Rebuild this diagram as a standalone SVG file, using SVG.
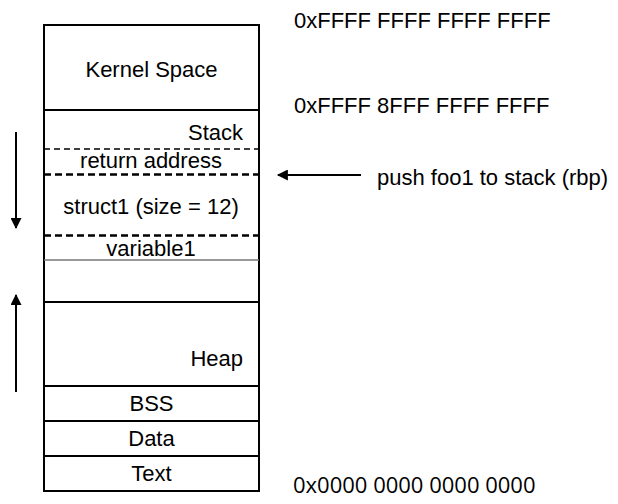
<svg xmlns="http://www.w3.org/2000/svg" width="618" height="504" viewBox="0 0 618 504">
<defs>
<style>
.t{font-family:"Liberation Sans",Arial,sans-serif;font-size:22px;fill:#000}
.c{text-anchor:middle}
.e{text-anchor:end}
.o{font-family:"Open Sans","Noto Sans",sans-serif;font-size:22px;fill:#000}
.s{stroke:#000;stroke-width:2;fill:none}
.d1{stroke:#000;stroke-width:1.5;stroke-dasharray:6 4;fill:none}
.d2{stroke:#000;stroke-width:2.5;stroke-dasharray:7 4;fill:none}
.ar{stroke:#000;stroke-width:2;fill:none}
</style>
<marker id="ah" viewBox="0 0 10 10" refX="9" refY="5" markerWidth="6" markerHeight="5.5" orient="auto" markerUnits="strokeWidth">
<path d="M0,0 L10,5 L0,10 z" fill="#000"/>
</marker>
</defs>
<rect width="618" height="504" fill="#fff"/>
<g id="kernel"><rect x="44" y="25" width="215" height="85" class="s"/><text class="t c" x="151.5" y="77">Kernel Space</text></g>
<g id="stack"><line x1="44" y1="110" x2="44" y2="302" class="s"/><line x1="259" y1="110" x2="259" y2="302" class="s"/><text class="t e" x="243" y="140">Stack</text></g>
<g id="return-address"><line x1="44" y1="149" x2="259" y2="149" class="d1"/><text class="t c" x="151" y="168">return address</text></g>
<g id="struct1"><line x1="44" y1="174.5" x2="259" y2="174.5" class="d2"/><text class="t c" x="151" y="214">struct1 (size = 12)</text></g>
<g id="variable1"><line x1="44" y1="235.5" x2="259" y2="235.5" class="d2"/><text class="t c" x="151" y="256">variable1</text><line x1="44" y1="260" x2="259" y2="260" stroke="#777" stroke-width="1.5"/></g>
<g id="gap"><line x1="44" y1="302" x2="259" y2="302" stroke="#000" stroke-width="1.5"/></g>
<g id="heap"><rect x="44" y="302" width="215" height="84" class="s"/><text class="t e" x="243" y="366">Heap</text></g>
<g id="bss"><rect x="44" y="386" width="215" height="35" class="s"/><text class="t c" x="151.5" y="411">BSS</text></g>
<g id="data"><rect x="44" y="421" width="215" height="35" class="s"/><text class="t c" x="151.5" y="446">Data</text></g>
<g id="text-seg"><rect x="44" y="456" width="215" height="35" class="s"/><text class="t c" x="151.5" y="481">Text</text></g>
<g id="addr-top"><text class="t" x="294" y="28">0xFFFF FFFF FFFF FFFF</text></g>
<g id="addr-kernel"><text class="t" x="294" y="113">0xFFFF 8FFF FFFF FFFF</text></g>
<g id="push-label"><text class="t" x="377" y="185">push foo1 to stack (rbp)</text></g>
<g id="addr-bottom"><text class="o" x="293" y="493">0x0000 0000 0000 0000</text></g>
<g id="connectors">
<line x1="16" y1="132" x2="16" y2="228" class="ar" marker-end="url(#ah)"/>
<line x1="16" y1="392" x2="16" y2="295" class="ar" marker-end="url(#ah)"/>
<line x1="361" y1="175" x2="278" y2="175" class="ar" marker-end="url(#ah)"/>
</g>
</svg>
